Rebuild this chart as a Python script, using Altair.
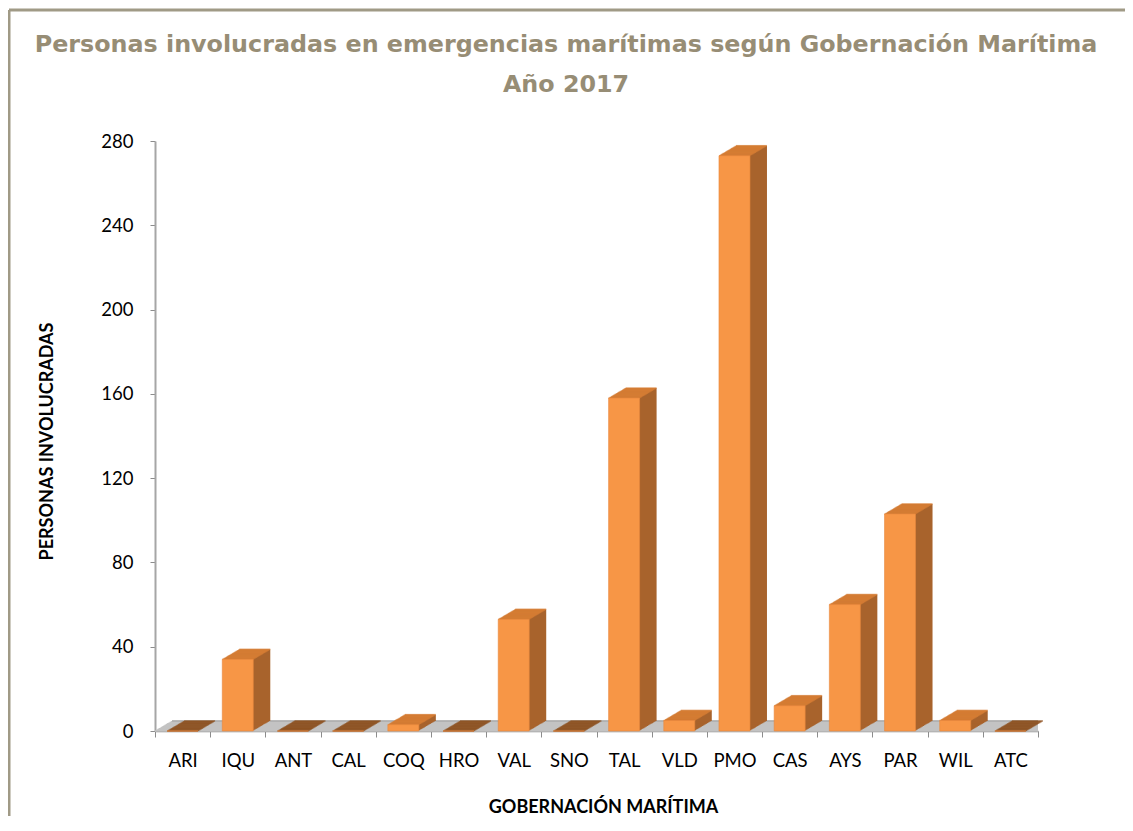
import altair as alt
import pandas as pd

cats = ["ARI", "IQU", "ANT", "CAL", "COQ", "HRO", "VAL", "SNO",
        "TAL", "VLD", "PMO", "CAS", "AYS", "PAR", "WIL", "ATC"]
vals = [0, 34, 0, 0, 3, 0, 53, 0, 158, 5, 273, 12, 60, 103, 5, 0]
y_ticks = [0, 40, 80, 120, 160, 200, 240, 280]
title_lines = ["Personas involucradas en emergencias marítimas según Gobernación Marítima",
               "Año 2017"]

df = pd.DataFrame({"cat": cats, "v": vals})

W, H = 883, 590
DX, DY, N = 17, 10, 14
BW = 31
FRONT = "#F79646"
SIDE = "#A8632C"
TOP = "#D97F35"
ZERO = "#8A4B18"
FLOOR = "#C3C3C3"

x_enc = alt.X("cat:N", sort=cats, scale=alt.Scale(paddingInner=0, paddingOuter=0),
              axis=alt.Axis(title="GOBERNACIÓN MARÍTIMA", labelAngle=0, tickBand="extent",
                            labelFont="Lato", labelFontSize=18.5, labelColor="#000000",
                            labelBaseline="middle", labelPadding=23,
                            tickSize=6, tickColor="#8C8C8C",
                            domainColor="#8C8C8C", domainWidth=1.5,
                            titleFont="Lato", titleFontSize=18, titleFontWeight="bold",
                            titleColor="#000000", titleX=448, titleY=76,
                            titleBaseline="middle", titleAlign="center"))
y_scale = alt.Scale(domain=[0, 280], nice=False)
y_enc = alt.Y("v:Q", scale=y_scale,
              axis=alt.Axis(title="PERSONAS INVOLUCRADAS", values=y_ticks, grid=False,
                            labelFont="Lato", labelFontSize=18.5, labelColor="#000000",
                            labelPadding=17, tickSize=5, tickColor="#8C8C8C",
                            domainColor="#A6A6A6", domainWidth=2,
                            titleFont="Lato", titleFontSize=18, titleFontWeight="bold",
                            titleColor="#000000", titleX=-108, titleY=300,
                            titleAngle=-90, titleAlign="center", titleBaseline="middle"))

deco = alt.Data(values=[{"a": 1}])
layers = []

# floor
for i in range(N + 1):
    t = i / N
    layers.append(
        alt.Chart(deco).mark_rule(color=FLOOR, strokeWidth=1.5,
                                  xOffset=DX * t, yOffset=-DY * t)
        .encode(x=alt.value(0), x2=alt.value(W),
                y=alt.Y(datum=0, type="quantitative", scale=y_scale))
    )
layers.append(
    alt.Chart(deco).mark_rule(color="#A0A0A0", strokeWidth=1, xOffset=DX, yOffset=-DY)
    .encode(x=alt.value(0), x2=alt.value(W),
            y=alt.Y(datum=0, type="quantitative", scale=y_scale))
)

base = alt.Chart(df)
# side extrusion
for i in range(1, N + 1):
    t = i / N
    layers.append(
        base.mark_bar(color=SIDE, width=BW, xOffset=DX * t, yOffset=-DY * t)
        .encode(x=x_enc, y=y_enc)
    )
# top faces
for i in range(0, N + 1):
    t = i / N
    layers.append(
        base.mark_tick(orient="horizontal", size=BW, thickness=1.6,
                       xOffset=DX * t, yOffset=-DY * t)
        .encode(x=x_enc, y=y_enc,
                color=alt.condition(alt.datum.v == 0, alt.value(ZERO), alt.value(TOP)))
    )
# front faces
layers.append(
    base.mark_bar(color=FRONT, width=BW, stroke="#E8883E", strokeWidth=0.6)
    .encode(x=x_enc, y=y_enc)
)

# outer frame
layers.append(
    alt.Chart(deco).mark_rule(color="#A09A86", strokeWidth=3)
    .encode(x=alt.value(-146), x2=alt.value(1000), y=alt.value(-131))
)
layers.append(
    alt.Chart(deco).mark_rule(color="#A09A86", strokeWidth=3)
    .encode(x=alt.value(-146), y=alt.value(-131), y2=alt.value(700))
)

# title lines
for line, ypos in zip(title_lines, [-96, -56]):
    layers.append(
        alt.Chart(alt.Data(values=[{"t": line}]))
        .mark_text(font="DejaVu Sans", fontSize=23.8, fontWeight="bold",
                   color="#978D75", align="center", baseline="middle")
        .encode(text="t:N", x=alt.value(411), y=alt.value(ypos))
    )

chart = alt.layer(*layers).properties(
    width=W, height=H,
    background="#FFFFFF",
    autosize=alt.AutoSizeParams(type="none"),
    padding={"left": 147, "top": 133, "right": 87, "bottom": 85},
).configure_view(strokeWidth=0, stroke="transparent")

chart.save("out.html", embed_options={"renderer": "svg", "actions": False})
